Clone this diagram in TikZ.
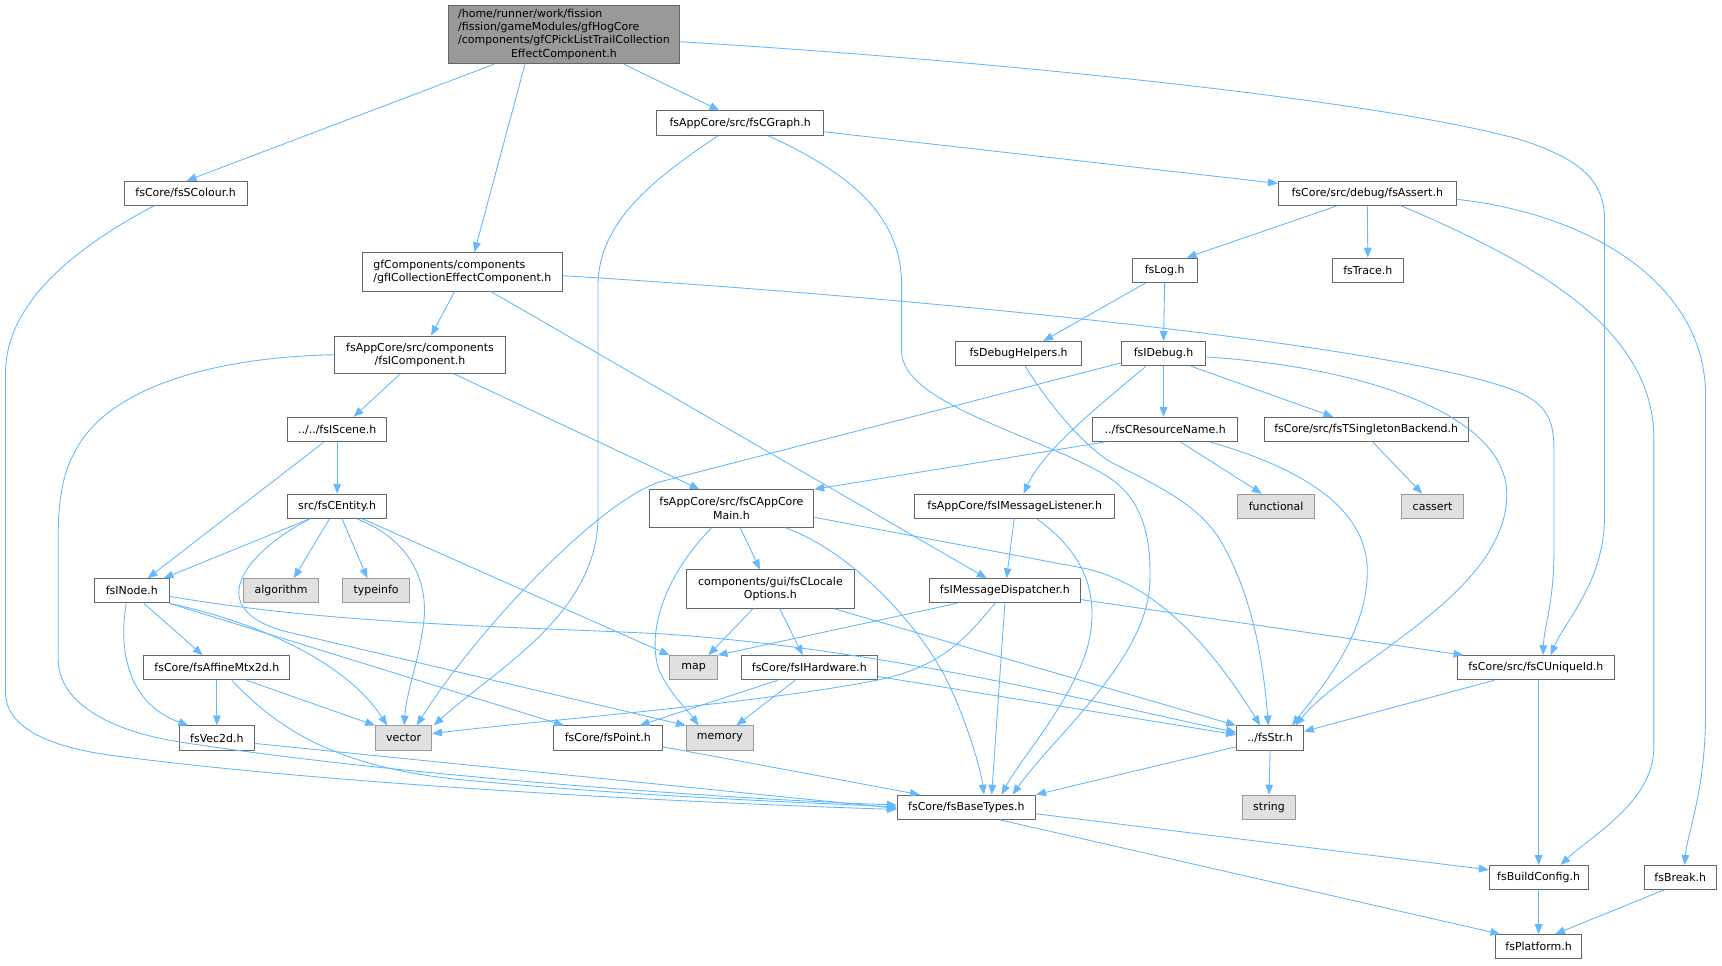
\documentclass[tikz,border=0pt]{standalone}
\usepackage{fontspec}
\setmainfont{DejaVu Sans}
\usetikzlibrary{arrows.meta}
\definecolor{edgec}{HTML}{63B8FF}
\definecolor{bordc}{HTML}{666666}
\definecolor{sysfill}{HTML}{E0E0E0}
\definecolor{sysbord}{HTML}{999999}
\definecolor{rootfill}{HTML}{999999}
\tikzset{
  file/.style={draw=bordc, fill=white, line width=0.9pt, inner sep=0pt, anchor=center,
    align=center, font=\fontsize{10}{12}\selectfont, minimum height=22pt},
  sys/.style={file, draw=sysbord, fill=sysfill},
  rootbox/.style={file, fill=rootfill},
  link/.style={draw=edgec, line width=0.8pt, -{Triangle[length=9pt,width=7pt]}}
}
\begin{document}
\begin{tikzpicture}[x=1pt,y=-1pt]
\useasboundingbox (0,0) rectangle (1568,879);
% nodes
\node[rootbox, minimum width=211pt, minimum height=53pt] (root) at (513.5,31.5)
  {\begin{tabular}{@{}l@{}}/home/runner/work/fission\\/fission/gameModules/gfHogCore\\/components/gfCPickListTrailCollection\\\multicolumn{1}{@{}c@{}}{EffectComponent.h}\end{tabular}};
\node[file, minimum width=152pt] (graph) at (674,112) {fsAppCore/src/fsCGraph.h};
\node[file, minimum width=112pt] (scol) at (169,176) {fsCore/fsSColour.h};
\node[file, minimum width=162pt] (assert) at (1245,176) {fsCore/src/debug/fsAssert.h};
\node[file, minimum width=182pt, minimum height=35pt, align=left] (gfi) at (421,247.5) {gfComponents/components\\/gfICollectionEffectComponent.h};
\node[file, minimum width=59pt] (log) at (1060.5,246) {fsLog.h};
\node[file, minimum width=65pt] (trace) at (1245.5,246) {fsTrace.h};
\node[file, minimum width=155pt, minimum height=34pt] (comp) at (382.5,323) {fsAppCore/src/components\\/fsIComponent.h};
\node[file, minimum width=115pt] (dhelp) at (927.5,322) {fsDebugHelpers.h};
\node[file, minimum width=77pt] (idebug) at (1059.5,322) {fsIDebug.h};
\node[file, minimum width=90pt] (scene) at (307,391) {../../fsIScene.h};
\node[file, minimum width=132pt] (resname) at (1061,391) {../fsCResourceName.h};
\node[file, minimum width=186pt] (single) at (1244,391) {fsCore/src/fsTSingletonBackend.h};
\node[file, minimum width=90pt] (entity) at (307,461) {src/fsCEntity.h};
\node[file, minimum width=150pt, minimum height=34pt] (cappm) at (666,463) {fsAppCore/src/fsCAppCore\\Main.h};
\node[file, minimum width=182pt] (listen) at (924,461) {fsAppCore/fsIMessageListener.h};
\node[sys, minimum width=70pt] (func) at (1162,461) {functional};
\node[sys, minimum width=57pt] (cassert) at (1304.5,461) {cassert};
\node[file, minimum width=68pt] (inode) at (120,538) {fsINode.h};
\node[sys, minimum width=68pt] (algo) at (256,538) {algorithm};
\node[sys, minimum width=61pt] (tinfo) at (342.5,538) {typeinfo};
\node[file, minimum width=153pt, minimum height=35pt] (clocale) at (701.5,536.5) {components/gui/fsCLocale\\Options.h};
\node[file, minimum width=138pt] (disp) at (915,538) {fsIMessageDispatcher.h};
\node[sys, minimum width=43pt] (map) at (631.5,608) {map};
\node[file, minimum width=124pt] (hw) at (737,608) {fsCore/fsIHardware.h};
\node[file, minimum width=133pt] (affine) at (197.5,608) {fsCore/fsAffineMtx2d.h};
\node[file, minimum width=143pt] (uid) at (1398.5,608) {fsCore/src/fsCUniqueId.h};
\node[file, minimum width=69pt] (vec2d) at (197.5,672) {fsVec2d.h};
\node[sys, minimum width=51pt] (vec) at (367.5,672) {vector};
\node[file, minimum width=99pt] (pt) at (553.5,672) {fsCore/fsPoint.h};
\node[sys, minimum width=61pt] (mem) at (655.5,672) {memory};
\node[file, minimum width=61pt] (str) at (1156.5,672) {../fsStr.h};
\node[file, minimum width=126pt] (bt) at (880,735) {fsCore/fsBaseTypes.h};
\node[sys, minimum width=49pt] (string) at (1155.5,735) {string};
\node[file, minimum width=90pt] (build) at (1401,799) {fsBuildConfig.h};
\node[file, minimum width=66pt] (brk) at (1530,799) {fsBreak.h};
\node[file, minimum width=78pt] (plat) at (1401,862) {fsPlatform.h};
% edges
\path[link] ([xshift=-63.5pt]root.south) -- ([xshift=1pt]scol.north);
\path[link] ([xshift=-35.5pt]root.south) -- ([xshift=11pt]gfi.north);
\path[link] ([xshift=54.5pt]root.south) -- ([xshift=-19pt]graph.north);
\path[link] ([yshift=-6.5pt]root.east) .. controls (900,55) and (1250,90) .. (1384,127) .. controls (1440,145) and (1461,165) .. (1461,200) -- (1461,470) .. controls (1461,530) and (1425,565) .. ([xshift=13.5pt]uid.north);
\path[link] ([yshift=-8pt]graph.east) -- ([yshift=9pt]assert.west);
\path[link] ([xshift=-20pt]graph.south) .. controls (600,160) and (544.5,200) .. (544.5,260) -- (544.5,470) .. controls (544.5,560) and (450,610) .. ([xshift=27.5pt]vec.north);
\path[link] ([xshift=25pt]graph.south) .. controls (780,160) and (821,200) .. (821,260) -- (821,320) .. controls (821,370) and (960,400) .. (1013,437) .. controls (1045,460) and (1048,500) .. (1047,530) .. controls (1045,600) and (960,670) .. ([xshift=42pt]bt.north);
\path[link] ([xshift=-29pt]scol.south) .. controls (60,230) and (5,280) .. (5,340) -- (5,630) .. controls (5,665) and (50,680) .. (96,687) .. controls (300,715) and (650,732) .. ([yshift=-2pt]bt.west);
\path[link] ([xshift=-7pt]gfi.south) -- ([xshift=10pt]comp.north);
\path[link] ([xshift=26pt]gfi.south) -- ([xshift=-16.5pt]disp.north);
\path[link] ([yshift=-3.5pt]gfi.east) .. controls (900,275) and (1300,320) .. (1385,358) .. controls (1410,370) and (1415,385) .. (1415,410) -- (1415,500) .. controls (1415,550) and (1406,570) .. ([xshift=6.5pt]uid.north);
\path[link] ([xshift=-27.5pt]assert.south) -- ([xshift=20pt]log.north);
\path[link] (assert.south) -- (trace.north);
\path[link] ([xshift=31pt]assert.south) .. controls (1400,240) and (1506,300) .. (1506,400) -- (1506,680) .. controls (1506,730) and (1450,760) .. ([xshift=20pt]build.north);
\path[link] ([yshift=-5.5pt]assert.east) .. controls (1450,195) and (1553,260) .. (1553,360) -- (1553,650) .. controls (1553,720) and (1536,760) .. ([xshift=4pt]brk.north);
\path[link] ([xshift=-17pt]log.south) -- ([xshift=22.5pt]dhelp.north);
\path[link] (log.south) -- (idebug.north);
\path[link] ([xshift=-18pt]comp.south) -- ([xshift=15pt]scene.north);
\path[link] ([xshift=31pt]comp.south) -- ([xshift=-29pt]cappm.north);
\path[link] (comp.west) .. controls (200,325) and (110,350) .. (75,400) .. controls (58,425) and (53,450) .. (53,490) -- (53,600) .. controls (53,640) and (100,665) .. (160,675) .. controls (350,705) and (650,727) .. ([yshift=2pt]bt.west);
\path[link] ([xshift=6pt]dhelp.south) .. controls (950,360) and (980,400) .. (1010,420) .. controls (1060,445) and (1090,460) .. (1110,490) .. controls (1140,540) and (1150,600) .. ([xshift=-1.5pt]str.north);
\path[link] ([yshift=-8.5pt]idebug.west) -- (600,439) .. controls (540,460) and (430,580) .. ([xshift=12pt]vec.north);
\path[link] ([xshift=-16pt]idebug.south) .. controls (1000,370) and (950,410) .. ([xshift=8pt]listen.north);
\path[link] (idebug.south) -- (idebug.south |- resname.north);
\path[link] ([xshift=25pt]idebug.south) -- ([xshift=-30pt]single.north);
\path[link] ([yshift=-3pt]idebug.east) .. controls (1250,335) and (1372,380) .. (1372,450) .. controls (1372,540) and (1230,600) .. ([xshift=23pt]str.north);
\path[link] (scene.south) -- (entity.north);
\path[link] ([xshift=-12pt]scene.south) -- ([xshift=14.5pt]inode.north);
\path[link] ([xshift=-55pt]resname.south) -- (cappm.north east);
\path[link] ([xshift=14pt]resname.south) -- ([xshift=-13pt]func.north);
\path[link] ([xshift=41pt]resname.south) .. controls (1180,425) and (1245,460) .. (1245,520) .. controls (1245,580) and (1200,630) .. ([xshift=20pt]str.north);
\path[link] ([xshift=6pt]single.south) -- ([xshift=-9.5pt]cassert.north);
\path[link] ([xshift=-25pt]entity.south) -- ([xshift=29pt]inode.north);
\path[link] ([xshift=-7pt]entity.south) -- ([xshift=11.5pt]algo.north);
\path[link] ([xshift=4.5pt]entity.south) -- ([xshift=-8pt]tinfo.north);
\path[link] ([xshift=18pt]entity.south) .. controls (370,490) and (390,525) .. (386,565) .. controls (382,600) and (370,630) .. ([xshift=0.5pt]vec.north);
\path[link] ([xshift=23pt]entity.south) -- (map.north west);
\path[link] ([xshift=-25pt]entity.south) .. controls (220,505) and (185,555) .. (260,575) -- (mem.north west);
\path[link] ([xshift=8pt]cappm.south) -- ([xshift=-9.5pt]clocale.north);
\path[link] ([xshift=-18pt]cappm.south) .. controls (600,530) and (590,580) .. (600,610) .. controls (610,632) and (625,645) .. ([xshift=-19.5pt]mem.north);
\path[link] ([xshift=49pt]cappm.south) .. controls (770,500) and (830,560) .. (860,615) .. controls (880,655) and (893,700) .. ([xshift=16pt]bt.north);
\path[link] ([yshift=-8pt]cappm.east) -- (990,518) .. controls (1060,535) and (1110,600) .. ([xshift=-9pt]str.north);
\path[link] ([xshift=-0.5pt]listen.south) -- ([xshift=1.5pt]disp.north);
\path[link] ([xshift=20pt]listen.south) .. controls (990,505) and (1002,545) .. (990,590) .. controls (975,640) and (930,690) .. ([xshift=32pt]bt.north);
\path[link] ([xshift=11pt]inode.south) -- ([xshift=-13pt]affine.north);
\path[link] ([xshift=-5pt]inode.south) .. controls (108,590) and (115,640) .. ([xshift=-26pt]vec2d.north);
\path[link] (inode.south east) .. controls (250,570) and (320,610) .. ([xshift=-15pt]vec.north);
\path[link] (inode.south east) -- ([xshift=-40pt]pt.north);
\path[link] ([yshift=-5pt]inode.east) .. controls (300,568) and (450,570) .. (600,577) .. controls (800,590) and (1000,640) .. ([yshift=5pt]str.west);
\path[link] ([xshift=-16pt]clocale.south) -- ([xshift=13.5pt]map.north);
\path[link] ([xshift=8.5pt]clocale.south) -- ([xshift=-6pt]hw.north);
\path[link] ([xshift=58.5pt]clocale.south) -- (str.north west);
\path[link] ([xshift=-44pt]disp.south) -- (map.north east);
\path[link] ([xshift=-9pt]disp.south) .. controls (880,580) and (860,605) .. (805,618) .. controls (700,640) and (500,655) .. ([yshift=4pt]vec.east);
\path[link] (disp.south) -- ([xshift=23pt]bt.north);
\path[link] ([yshift=-8pt]disp.east) -- ([xshift=6pt]uid.north west);
\path[link] ([xshift=-29pt]hw.south) -- ([xshift=29pt]pt.north);
\path[link] ([xshift=-13pt]hw.south) -- ([xshift=15pt]mem.north);
\path[link] ([yshift=-8pt]hw.east) -- ([yshift=3pt]str.west);
\path[link] (affine.south) -- (vec2d.north);
\path[link] ([xshift=27pt]affine.south) -- (vec.north west);
\path[link] ([xshift=13.5pt]affine.south) .. controls (250,660) and (300,698) .. (420,710) .. controls (600,727) and (750,731) .. (bt.west);
\path[link] ([xshift=-38pt]uid.south) -- ([yshift=6pt]str.east);
\path[link] ([xshift=2.5pt]uid.south) -- (build.north);
\path[link] ([yshift=-5pt]vec2d.east) -- ([yshift=-1pt]bt.west);
\path[link] ([yshift=-8pt]pt.east) -- ([xshift=21pt]bt.north west);
\path[link] ([yshift=-8pt]str.west) -- (bt.north east);
\path[link] (str.south) -- (string.north);
\path[link] ([yshift=-6pt]bt.east) -- ([yshift=7pt]build.west);
\path[link] ([xshift=30pt]bt.south) -- ([xshift=-35pt]plat.north);
\path[link] (build.south) -- (plat.north);
\path[link] ([xshift=-15pt]brk.south) -- ([xshift=15pt]plat.north);
\end{tikzpicture}
\end{document}
